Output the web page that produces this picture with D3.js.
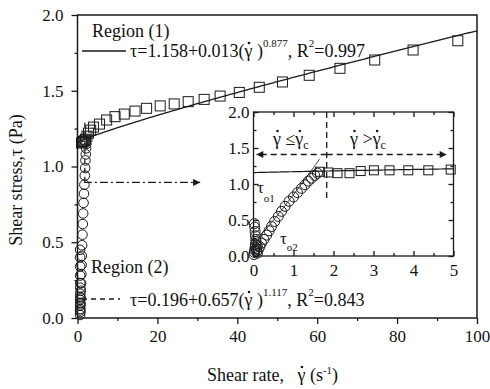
<!DOCTYPE html>
<html>
<head>
<meta charset="utf-8">
<script src="https://cdn.jsdelivr.net/npm/d3@7"></script>
<style>
body { margin: 0; background: #fff; }
text { font-family: "Liberation Serif", "Times New Roman", serif; fill: #111; }
</style>
</head>
<body>
<div id="chart"></div>
<script>
// Region (1) squares in the main panel
var rate1 = [1.0, 1.2, 1.45, 1.7, 2.0, 2.35, 2.75, 3.3, 4.0, 5.5, 7.3, 9.4, 11.7, 14.4, 17.3, 20.7, 24.2, 27.7, 31.7, 35.7, 40.5, 45.5, 51.3, 58, 65.7, 74.4, 84, 95.2];
var stress1 = [1.155, 1.16, 1.165, 1.17, 1.18, 1.2, 1.22, 1.24, 1.26, 1.28, 1.307, 1.329, 1.346, 1.366, 1.384, 1.40, 1.413, 1.428, 1.443, 1.465, 1.489, 1.523, 1.558, 1.602, 1.648, 1.703, 1.769, 1.830];

// squares seen in the inset
var rateIn = [1.66, 1.87, 2.1, 2.4, 2.68, 3.01, 3.4, 3.87, 4.37, 4.93];
var stressIn = [1.17, 1.16, 1.15, 1.15, 1.18, 1.19, 1.19, 1.19, 1.19, 1.20];

// Region (2) circles (low shear rate)
var rate2 = [0.01, 0.02, 0.02, 0.03, 0.03, 0.04, 0.04, 0.05, 0.05, 0.06, 0.06, 0.07, 0.08, 0.09, 0.10,
             0.12, 0.16, 0.20, 0.26, 0.33, 0.39, 0.45, 0.53, 0.62, 0.70, 0.79, 0.89, 1.0, 1.1, 1.2, 1.29, 1.37, 1.45, 1.53, 1.6];
var stress2 = [0.02, 0.05, 0.45, 0.40, 0.08, 0.34, 0.12, 0.28, 0.16, 0.23, 0.20, 0.10, 0.06, 0.14, 0.04,
               0.09, 0.13, 0.18, 0.23, 0.29, 0.35, 0.41, 0.48, 0.55, 0.62, 0.69, 0.76, 0.82, 0.88, 0.94, 0.99, 1.04, 1.08, 1.12, 1.15];

// fit coefficients: tau = a + b * rate^n
var fit1 = [1.158, 0.013, 0.877];
var fit2 = [0.196, 0.657, 1.117];
var gammaC = 1.83;

var xTicks = [0, 20, 40, 60, 80, 100], xMinor = [10, 30, 50, 70, 90];
var yTicks = [0, 0.5, 1.0, 1.5, 2.0], yMinor = [0.25, 0.75, 1.25, 1.75];
var xTicksIn = [0, 1, 2, 3, 4, 5], xMinorIn = [0.5, 1.5, 2.5, 3.5, 4.5];
var yTicksIn = [0, 0.5, 1.0, 1.5, 2.0], yMinorIn = [0.25, 0.75, 1.25, 1.75];

var width = 490, height = 389;
var ink = '#1a1a1a';
var serif = '"Liberation Serif", "Times New Roman", serif';

var svg = d3.select('#chart').append('svg')
    .attr('width', width)
    .attr('height', height);

var defs = svg.append('defs');
defs.append('marker')
    .attr('id', 'head')
    .attr('viewBox', '0 0 10 10')
    .attr('refX', 10).attr('refY', 5)
    .attr('markerWidth', 10).attr('markerHeight', 7)
    .attr('markerUnits', 'userSpaceOnUse')
    .attr('orient', 'auto')
    .append('path').attr('d', 'M0,0L10,5L0,10z').attr('fill', ink);

var x = d3.scaleLinear().domain([0, 100]).range([77.5, 477]);
var y = d3.scaleLinear().domain([0, 2]).range([318, 15]);

function fitLine(p, xs, sx, sy) {
    return d3.line()
        .x(function(d) { return sx(d); })
        .y(function(d) { return sy(p[0] + p[1] * Math.pow(d, p[2])); })(xs);
}

function styleAxis(g, size) {
    g.attr('font-size', size).attr('font-family', serif);
    g.selectAll('text').style('font-family', serif);
    g.selectAll('line').attr('stroke', ink).attr('stroke-width', 1.3);
    g.select('.domain').remove();
}

// gamma that gets a dot drawn over it once the text is laid out
function gamma(t, fs) {
    t.append('tspan').attr('class', 'gdot').attr('data-fs', fs).text('\u03b3');
}

// ---- main panel axes
svg.append('g').attr('transform', 'translate(0,318)')
    .call(d3.axisBottom(x).tickValues(xTicks).tickSize(6).tickPadding(6).tickFormat(d3.format('d')))
    .call(styleAxis, 17);
svg.append('g').attr('transform', 'translate(0,318)')
    .call(d3.axisBottom(x).tickValues(xMinor).tickSize(3).tickFormat(''))
    .call(styleAxis, 17);
svg.append('g').attr('transform', 'translate(77.5,0)')
    .call(d3.axisLeft(y).tickValues(yTicks).tickSize(6).tickPadding(8).tickFormat(d3.format('.1f')))
    .call(styleAxis, 17);
svg.append('g').attr('transform', 'translate(77.5,0)')
    .call(d3.axisLeft(y).tickValues(yMinor).tickSize(3).tickFormat(''))
    .call(styleAxis, 17);

svg.append('rect')
    .attr('x', x(0)).attr('y', y(2))
    .attr('width', x(100) - x(0)).attr('height', y(0) - y(2))
    .attr('fill', 'none').attr('stroke', ink).attr('stroke-width', 1.5);

// axis titles
svg.append('text')
    .attr('transform', 'translate(22,180) rotate(-90)')
    .attr('text-anchor', 'middle')
    .attr('font-size', 18)
    .text('Shear stress,\u03c4 (Pa)');

var xt = svg.append('text')
    .attr('x', 207).attr('y', 381)
    .attr('font-size', 18);
xt.append('tspan').text('Shear rate,\u00a0\u00a0 ');
gamma(xt, 18);
xt.append('tspan').text(' (s');
xt.append('tspan').attr('font-size', 11).attr('dy', -7).text('-1');
xt.append('tspan').attr('dy', 7).text(')');

// ---- main panel data
svg.append('path')
    .attr('d', fitLine(fit1, d3.range(0, 100.01, 0.5), x, y))
    .attr('fill', 'none').attr('stroke', ink).attr('stroke-width', 1.3);

svg.append('line')
    .attr('x1', x(gammaC)).attr('x2', x(gammaC))
    .attr('y1', y(0.9)).attr('y2', y(1.31))
    .attr('stroke', ink).attr('stroke-width', 1.2).attr('stroke-dasharray', '5,4');

svg.append('g').selectAll('rect')
    .data(d3.range(rate1.length))
    .enter().append('rect')
    .attr('x', function(i) { return x(rate1[i]) - 5; })
    .attr('y', function(i) { return y(stress1[i]) - 5; })
    .attr('width', 10).attr('height', 10)
    .attr('fill', 'none').attr('stroke', ink).attr('stroke-width', 1);

svg.append('g').selectAll('circle')
    .data(d3.range(rate2.length))
    .enter().append('circle')
    .attr('cx', function(i) { return x(rate2[i]) + 2.5; })
    .attr('cy', function(i) { return y(stress2[i]); })
    .attr('r', 4.8)
    .attr('fill', 'none').attr('stroke', ink).attr('stroke-width', 1);

// dash-dot pointer to the inset
svg.append('line')
    .attr('x1', x(1.6)).attr('x2', x(30.7))
    .attr('y1', y(0.895)).attr('y2', y(0.895))
    .attr('stroke', ink).attr('stroke-width', 1.2)
    .attr('stroke-dasharray', '8,3,2,3')
    .attr('marker-end', 'url(#head)');

// ---- legend texts
svg.append('text').attr('x', 92).attr('y', 37).attr('font-size', 18).text('Region (1)');
svg.append('line').attr('x1', 82).attr('x2', 126).attr('y1', 51).attr('y2', 51)
    .attr('stroke', ink).attr('stroke-width', 1.3);
var t1 = svg.append('text').attr('x', 130).attr('y', 57).attr('font-size', 18);
t1.append('tspan').text('\u03c4=1.158+0.013(');
gamma(t1, 18);
t1.append('tspan').text(' )');
t1.append('tspan').attr('font-size', 11).attr('dy', -10).text('0.877');
t1.append('tspan').attr('dy', 10).text(', R');
t1.append('tspan').attr('font-size', 11).attr('dy', -10).text('2');
t1.append('tspan').attr('dy', 10).text('=0.997');

svg.append('text').attr('x', 91).attr('y', 273).attr('font-size', 18).text('Region (2)');
svg.append('line').attr('x1', 82).attr('x2', 120).attr('y1', 299).attr('y2', 299)
    .attr('stroke', ink).attr('stroke-width', 1.3).attr('stroke-dasharray', '5,4');
var t2 = svg.append('text').attr('x', 130).attr('y', 306).attr('font-size', 18);
t2.append('tspan').text('\u03c4=0.196+0.657(');
gamma(t2, 18);
t2.append('tspan').text(' )');
t2.append('tspan').attr('font-size', 11).attr('dy', -10).text('1.117');
t2.append('tspan').attr('dy', 10).text(', R');
t2.append('tspan').attr('font-size', 11).attr('dy', -10).text('2');
t2.append('tspan').attr('dy', 10).text('=0.843');

// ---- inset
var xi = d3.scaleLinear().domain([0, 5]).range([253.5, 453.5]);
var yi = d3.scaleLinear().domain([0, 2]).range([256, 112]);
var inset = svg.append('g');

inset.append('rect')
    .attr('x', xi(0)).attr('y', yi(2))
    .attr('width', xi(5) - xi(0)).attr('height', yi(0) - yi(2))
    .attr('fill', '#fff');

inset.append('g').attr('transform', 'translate(0,256)')
    .call(d3.axisBottom(xi).tickValues(xTicksIn).tickSize(-5).tickPadding(8).tickFormat(d3.format('d')))
    .call(styleAxis, 17);
inset.append('g').attr('transform', 'translate(0,256)')
    .call(d3.axisBottom(xi).tickValues(xMinorIn).tickSize(-3).tickFormat(''))
    .call(styleAxis, 17);
inset.append('g').attr('transform', 'translate(0,112)')
    .call(d3.axisTop(xi).tickValues(xTicksIn).tickSize(-5).tickFormat(''))
    .call(styleAxis, 17);
inset.append('g').attr('transform', 'translate(0,112)')
    .call(d3.axisTop(xi).tickValues(xMinorIn).tickSize(-3).tickFormat(''))
    .call(styleAxis, 17);
inset.append('g').attr('transform', 'translate(253.5,0)')
    .call(d3.axisLeft(yi).tickValues(yTicksIn).tickSize(-5).tickPadding(4).tickFormat(d3.format('.1f')))
    .call(styleAxis, 17);
inset.append('g').attr('transform', 'translate(253.5,0)')
    .call(d3.axisLeft(yi).tickValues(yMinorIn).tickSize(-3).tickFormat(''))
    .call(styleAxis, 17);
inset.append('g').attr('transform', 'translate(453.5,0)')
    .call(d3.axisRight(yi).tickValues(yTicksIn).tickSize(-5).tickFormat(''))
    .call(styleAxis, 17);
inset.append('g').attr('transform', 'translate(453.5,0)')
    .call(d3.axisRight(yi).tickValues(yMinorIn).tickSize(-3).tickFormat(''))
    .call(styleAxis, 17);

inset.append('rect')
    .attr('x', xi(0)).attr('y', yi(2))
    .attr('width', xi(5) - xi(0)).attr('height', yi(0) - yi(2))
    .attr('fill', 'none').attr('stroke', ink).attr('stroke-width', 1.3);

// fits in the inset
inset.append('path')
    .attr('d', fitLine(fit1, d3.range(0, 5.001, 0.05), xi, yi))
    .attr('fill', 'none').attr('stroke', ink).attr('stroke-width', 1.2);
inset.append('path')
    .attr('d', fitLine(fit2, d3.range(0, 1.651, 0.05), xi, yi))
    .attr('fill', 'none').attr('stroke', ink).attr('stroke-width', 0.8);

// critical rate marker and arrows
inset.append('line')
    .attr('x1', xi(gammaC)).attr('x2', xi(gammaC))
    .attr('y1', yi(2)).attr('y2', yi(0.78))
    .attr('stroke', ink).attr('stroke-width', 1.3).attr('stroke-dasharray', '6,4');
inset.append('line')
    .attr('x1', xi(gammaC)).attr('x2', xi(0.07))
    .attr('y1', yi(1.41)).attr('y2', yi(1.41))
    .attr('stroke', ink).attr('stroke-width', 1.3).attr('stroke-dasharray', '6,4')
    .attr('marker-end', 'url(#head)');
inset.append('line')
    .attr('x1', xi(gammaC)).attr('x2', xi(4.83))
    .attr('y1', yi(1.41)).attr('y2', yi(1.41))
    .attr('stroke', ink).attr('stroke-width', 1.3).attr('stroke-dasharray', '6,4')
    .attr('marker-end', 'url(#head)');

inset.append('g').selectAll('rect')
    .data(d3.range(rateIn.length))
    .enter().append('rect')
    .attr('x', function(i) { return xi(rateIn[i]) - 4.5; })
    .attr('y', function(i) { return yi(stressIn[i]) - 4.5; })
    .attr('width', 9).attr('height', 9)
    .attr('fill', 'none').attr('stroke', ink).attr('stroke-width', 1);

inset.append('g').selectAll('circle')
    .data(d3.range(rate2.length))
    .enter().append('circle')
    .attr('cx', function(i) { return xi(rate2[i]); })
    .attr('cy', function(i) { return yi(stress2[i]); })
    .attr('r', 5)
    .attr('fill', 'none').attr('stroke', ink).attr('stroke-width', 1);

// inset annotations
var a1 = inset.append('text').attr('x', 273).attr('y', 145).attr('font-size', 18);
gamma(a1, 18);
a1.append('tspan').text(' \u2264');
gamma(a1, 18);
a1.append('tspan').attr('font-size', 12).attr('dy', 4).text('c');
var a2 = inset.append('text').attr('x', 350).attr('y', 145).attr('font-size', 18);
gamma(a2, 18);
a2.append('tspan').text(' >');
gamma(a2, 18);
a2.append('tspan').attr('font-size', 12).attr('dy', 4).text('c');

var o1 = inset.append('text').attr('x', 257).attr('y', 193).attr('font-size', 17);
o1.append('tspan').text('\u03c4');
o1.append('tspan').attr('font-size', 11).attr('dy', 9).text('o1');
var o2 = inset.append('text').attr('x', 280).attr('y', 244).attr('font-size', 17);
o2.append('tspan').text('\u03c4');
o2.append('tspan').attr('font-size', 11).attr('dy', 7).text('o2');

// dots over the gammas (rate symbol)
svg.selectAll('tspan.gdot').each(function() {
    var fs = +this.getAttribute('data-fs');
    var ext = this.getExtentOfChar(0);
    var base = ext.y + 0.891 * fs;
    svg.append('circle')
        .attr('cx', ext.x + ext.width / 2 + 0.5)
        .attr('cy', base - 0.78 * fs)
        .attr('r', 1.3)
        .attr('fill', ink);
});
</script>
</body>
</html>
